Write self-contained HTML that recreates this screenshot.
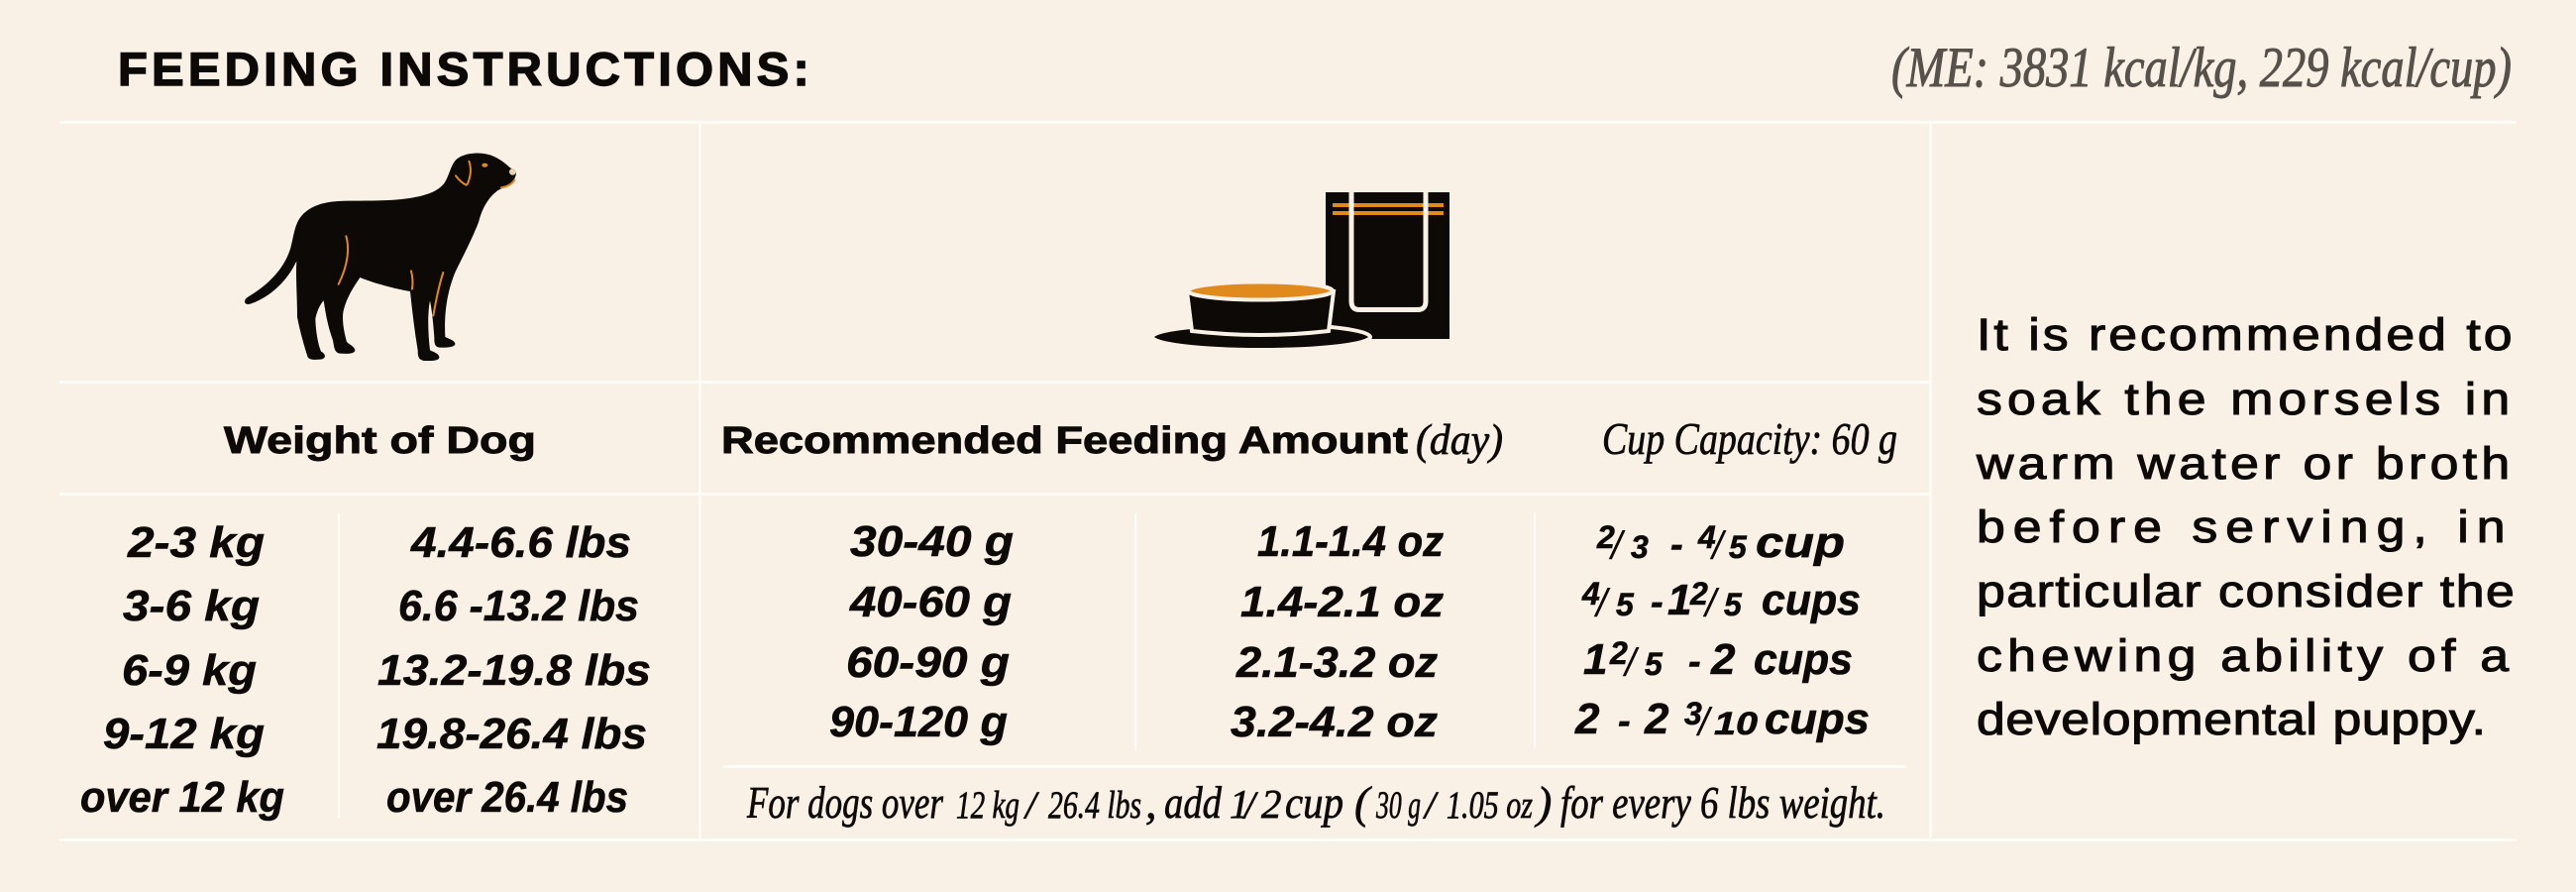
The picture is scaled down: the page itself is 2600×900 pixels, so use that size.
<!DOCTYPE html>
<html>
<head>
<meta charset="utf-8">
<style>
html,body{margin:0;padding:0;background:#faf1e6;}
svg{display:block;}
.t{font-family:"Liberation Sans",sans-serif;font-weight:bold;fill:#0d0906;stroke:#0d0906;}
.d{font-family:"Liberation Sans",sans-serif;font-weight:bold;font-style:italic;font-size:44px;fill:#0d0906;stroke:#0d0906;stroke-width:0.6px;}
.fr{font-size:32px;}
.sl{font-family:"Liberation Sans",sans-serif;font-weight:normal;font-style:italic;font-size:40px;fill:#0d0906;}
.hy{font-size:38px;}
.se{font-family:"Liberation Serif",serif;font-style:italic;fill:#0d0906;stroke:#0d0906;stroke-width:0.7px;}
.p{font-family:"Liberation Sans",sans-serif;font-size:45px;fill:#0d0906;stroke:#0d0906;stroke-width:1.1px;}
</style>
</head>
<body>
<svg width="2600" height="900" viewBox="0 0 2600 900" xmlns="http://www.w3.org/2000/svg">
<rect x="0" y="0" width="2600" height="900" fill="#faf1e6"/>

<!-- grid lines -->
<g fill="#fffcf8">
<rect x="60" y="122" width="2480" height="3"/>
<rect x="60" y="384" width="1888" height="3"/>
<rect x="60" y="497" width="1888" height="3"/>
<rect x="730" y="772" width="1194" height="3"/>
<rect x="60" y="846" width="2480" height="3"/>
<rect x="705" y="123" width="3" height="724"/>
<rect x="1947" y="123" width="3" height="724"/>
<rect x="341" y="518" width="2" height="307"/>
<rect x="1145" y="518" width="2" height="240"/>
<rect x="1548" y="517" width="2" height="238"/>
</g>

<!-- title -->
<text class="t" transform="translate(119,86) scale(1.04,1)" x="0" y="0" font-size="47" style="stroke-width:1.4px" textLength="671" lengthAdjust="spacing">FEEDING INSTRUCTIONS:</text>
<text class="se" x="1909" y="87" font-size="57" style="fill:#57514b;stroke:#57514b;stroke-width:1px" textLength="626" lengthAdjust="spacingAndGlyphs">(ME: 3831 kcal/kg, 229 kcal/cup)</text>

<!-- dog -->
<g transform="translate(230,140) scale(0.33333)">
<path fill="#0d0906" d="M 855 88
C 835 70 815 55 790 48
C 760 40 720 42 695 60
C 675 75 672 110 655 135
C 635 160 600 172 550 180
C 470 192 380 185 320 190
C 270 195 230 215 212 250
C 200 275 198 300 190 330
C 170 400 110 450 62 478
C 45 488 48 505 68 500
C 130 478 180 430 208 370
C 205 420 210 480 210 540
C 220 590 232 630 240 655
C 242 668 255 670 280 668
C 298 666 298 652 282 644
C 272 620 266 580 265 545
C 270 520 280 500 290 490
C 295 520 300 560 318 610
C 322 630 322 648 340 650
C 365 652 385 650 385 640
C 383 628 370 625 360 615
C 350 580 345 545 350 520
C 360 480 380 450 400 420
C 450 440 510 455 552 462
C 558 520 565 580 575 640
C 575 660 578 672 600 672
C 625 673 642 670 640 660
C 638 650 625 646 612 640
C 606 590 604 530 612 490
C 618 520 622 560 625 600
C 625 620 626 632 645 632
C 665 633 690 630 688 620
C 686 610 670 606 658 600
C 655 540 660 470 690 400
C 720 340 745 290 760 250
C 770 210 790 175 820 155
C 845 145 868 130 872 110
C 874 98 868 92 855 88 Z"/>
<g fill="none" stroke="#e08a1e" stroke-width="6" stroke-linecap="round">
<path d="M 730 68 C 738 90 735 115 725 138"/>
<path d="M 690 112 C 700 125 710 135 722 140"/>
<path d="M 828 148 C 845 145 860 138 868 125"/>
<path d="M 358 295 C 368 330 365 380 335 440"/>
<path d="M 555 400 C 560 420 560 440 558 455"/>
<path d="M 652 405 C 640 440 630 490 622 535"/>
</g>
<ellipse cx="778" cy="80" rx="9" ry="6" fill="#e08a1e"/>
<circle cx="862" cy="100" r="10" fill="#e9d2ad"/>
</g>

<!-- bag -->
<rect x="1338" y="194" width="125" height="148" fill="#0d0906"/>
<rect x="1345" y="205" width="112" height="4" fill="#e08a1e"/>
<rect x="1345" y="213" width="112" height="4" fill="#e08a1e"/>
<path d="M1364 194 L1364 304 Q1364 312.5 1372 312.5 L1431 312.5 Q1439 312.5 1439 304 L1439 194" fill="none" stroke="#faf1e6" stroke-width="5"/>

<!-- saucer & bowl -->
<ellipse cx="1273" cy="340" rx="110" ry="13" fill="#0d0906" stroke="#faf1e6" stroke-width="4"/>
<path d="M1198 294 L1203 334 Q1272 342 1341 334 L1346 294 Z" fill="#0d0906" stroke="#faf1e6" stroke-width="4"/>
<ellipse cx="1272" cy="293.5" rx="73" ry="9" fill="#e08a1e" stroke="#faf1e6" stroke-width="4"/>

<!-- headers -->
<text class="t" x="226" y="457" font-size="38" style="stroke-width:0.9px" textLength="315" lengthAdjust="spacingAndGlyphs">Weight of Dog</text>
<text class="t" x="728" y="457" font-size="38" style="stroke-width:0.9px" textLength="693" lengthAdjust="spacingAndGlyphs">Recommended Feeding Amount</text>
<text class="se" x="1429" y="458" font-size="43" textLength="88" lengthAdjust="spacingAndGlyphs">(day)</text>
<text class="se" x="1617" y="458" font-size="45" textLength="298" lengthAdjust="spacingAndGlyphs">Cup Capacity: 60 g</text>

<!-- weight kg -->
<text class="d" x="129" y="562" textLength="138" lengthAdjust="spacingAndGlyphs">2-3 kg</text>
<text class="d" x="124" y="626" textLength="138" lengthAdjust="spacingAndGlyphs">3-6 kg</text>
<text class="d" x="123" y="691" textLength="136" lengthAdjust="spacingAndGlyphs">6-9 kg</text>
<text class="d" x="104" y="755" textLength="163" lengthAdjust="spacingAndGlyphs">9-12 kg</text>
<text class="d" x="81" y="819" textLength="206" lengthAdjust="spacingAndGlyphs">over 12 kg</text>

<!-- weight lbs -->
<text class="d" x="415" y="562" textLength="222" lengthAdjust="spacingAndGlyphs">4.4-6.6 lbs</text>
<text class="d" x="402" y="626" textLength="243" lengthAdjust="spacingAndGlyphs">6.6 -13.2 lbs</text>
<text class="d" x="381" y="691" textLength="276" lengthAdjust="spacingAndGlyphs">13.2-19.8 lbs</text>
<text class="d" x="380" y="755" textLength="273" lengthAdjust="spacingAndGlyphs">19.8-26.4 lbs</text>
<text class="d" x="390" y="819" textLength="244" lengthAdjust="spacingAndGlyphs">over 26.4 lbs</text>

<!-- grams -->
<text class="d" x="858" y="561" textLength="165" lengthAdjust="spacingAndGlyphs">30-40 g</text>
<text class="d" x="858" y="622" textLength="163" lengthAdjust="spacingAndGlyphs">40-60 g</text>
<text class="d" x="854" y="683" textLength="165" lengthAdjust="spacingAndGlyphs">60-90 g</text>
<text class="d" x="837" y="743" textLength="180" lengthAdjust="spacingAndGlyphs">90-120 g</text>

<!-- oz -->
<text class="d" x="1269" y="561" textLength="188" lengthAdjust="spacingAndGlyphs">1.1-1.4 oz</text>
<text class="d" x="1252" y="622" textLength="205" lengthAdjust="spacingAndGlyphs">1.4-2.1 oz</text>
<text class="d" x="1248" y="683" textLength="203" lengthAdjust="spacingAndGlyphs">2.1-3.2 oz</text>
<text class="d" x="1242" y="743" textLength="209" lengthAdjust="spacingAndGlyphs">3.2-4.2 oz</text>

<!-- cups row1 -->
<text class="d fr" x="1612" y="553">2</text>
<text class="sl" x="1626" y="564">/</text>
<text class="d fr" x="1646" y="563">3</text>
<text class="d hy" x="1686" y="562">-</text>
<text class="d fr" x="1714" y="553">4</text>
<text class="sl" x="1728" y="564">/</text>
<text class="d fr" x="1745" y="563">5</text>
<text class="d" x="1772" y="562" textLength="90" lengthAdjust="spacingAndGlyphs">cup</text>

<!-- cups row2 -->
<text class="d fr" x="1597" y="610">4</text>
<text class="sl" x="1611" y="622">/</text>
<text class="d fr" x="1631" y="621">5</text>
<text class="d hy" x="1666" y="620">-</text>
<text class="d" x="1683" y="620">1</text>
<text class="d fr" x="1706" y="610">2</text>
<text class="sl" x="1721" y="622">/</text>
<text class="d fr" x="1740" y="621">5</text>
<text class="d" x="1778" y="620" textLength="100" lengthAdjust="spacingAndGlyphs">cups</text>

<!-- cups row3 -->
<text class="d" x="1598" y="680">1</text>
<text class="d fr" x="1625" y="670">2</text>
<text class="sl" x="1640" y="682">/</text>
<text class="d fr" x="1660" y="681">5</text>
<text class="d hy" x="1704" y="680">-</text>
<text class="d" x="1727" y="680">2</text>
<text class="d" x="1770" y="680" textLength="100" lengthAdjust="spacingAndGlyphs">cups</text>

<!-- cups row4 -->
<text class="d" x="1590" y="740">2</text>
<text class="d hy" x="1633" y="740">-</text>
<text class="d" x="1660" y="740">2</text>
<text class="d fr" x="1700" y="731">3</text>
<text class="sl" x="1714" y="742">/</text>
<text class="d fr" x="1730" y="741" textLength="44" lengthAdjust="spacingAndGlyphs">10</text>
<text class="d" x="1781" y="740" textLength="106" lengthAdjust="spacingAndGlyphs">cups</text>

<!-- footnote -->
<text class="se" x="754" y="825" font-size="46" textLength="198" lengthAdjust="spacingAndGlyphs">For dogs over</text>
<text class="se" x="965" y="825" font-size="39" textLength="64" lengthAdjust="spacingAndGlyphs">12 kg</text>
<text class="se" x="1035" y="825" font-size="39">/</text>
<text class="se" x="1058" y="825" font-size="39" textLength="94" lengthAdjust="spacingAndGlyphs">26.4 lbs</text>
<text class="se" x="1156" y="825" font-size="46">,</text>
<text class="se" x="1175" y="825" font-size="46" textLength="58" lengthAdjust="spacingAndGlyphs">add</text>
<text class="se" x="1241" y="825" font-size="41">1</text>
<text class="se" x="1256" y="825" font-size="39">/</text>
<text class="se" x="1273" y="825" font-size="41">2</text>
<text class="se" x="1297" y="825" font-size="46" textLength="59" lengthAdjust="spacingAndGlyphs">cup</text>
<text class="se" x="1367" y="825" font-size="46">(</text>
<text class="se" x="1389" y="825" font-size="39" textLength="45" lengthAdjust="spacingAndGlyphs">30 g</text>
<text class="se" x="1438" y="825" font-size="39">/</text>
<text class="se" x="1460" y="825" font-size="39" textLength="87" lengthAdjust="spacingAndGlyphs">1.05 oz</text>
<text class="se" x="1551" y="825" font-size="46">)</text>
<text class="se" x="1575" y="825" font-size="46" textLength="328" lengthAdjust="spacingAndGlyphs">for every 6 lbs weight.</text>

<!-- paragraph -->
<text class="p" transform="translate(1995,353) scale(1.15,1)" x="0" y="0" textLength="470" lengthAdjust="spacing">It is recommended to</text>
<text class="p" transform="translate(1995,418) scale(1.15,1)" x="0" y="0" textLength="468" lengthAdjust="spacing">soak the morsels in</text>
<text class="p" transform="translate(1995,483) scale(1.15,1)" x="0" y="0" textLength="468" lengthAdjust="spacing">warm water or broth</text>
<text class="p" transform="translate(1995,547) scale(1.15,1)" x="0" y="0" textLength="464" lengthAdjust="spacing">before serving, in</text>
<text class="p" transform="translate(1995,612) scale(1.15,1)" x="0" y="0" textLength="472" lengthAdjust="spacing">particular consider the</text>
<text class="p" transform="translate(1995,677) scale(1.15,1)" x="0" y="0" textLength="467" lengthAdjust="spacing">chewing ability of a</text>
<text class="p" transform="translate(1995,741) scale(1.15,1)" x="0" y="0" textLength="447" lengthAdjust="spacing">developmental puppy.</text>
</svg>
</body>
</html>
